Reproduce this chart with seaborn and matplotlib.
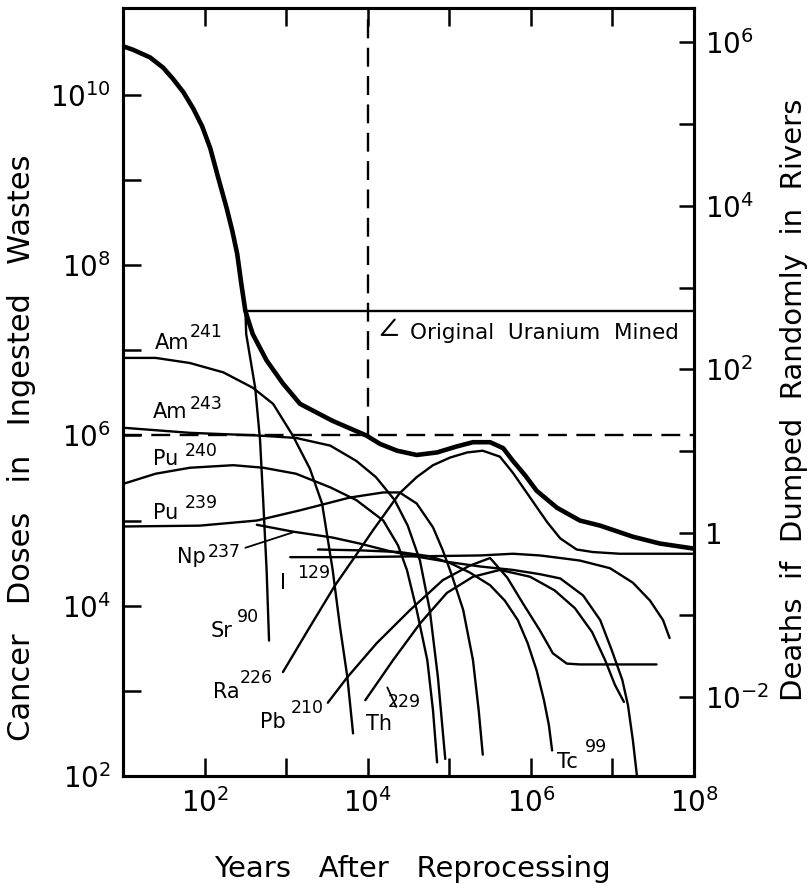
import matplotlib
matplotlib.use("Agg")
import matplotlib.pyplot as plt
import numpy as np
import pandas as pd
import seaborn as sns
from matplotlib.ticker import FixedLocator, FuncFormatter, NullLocator

# Curves, as log10(years) / log10(cancer doses)
total_lx = [1.00, 1.12, 1.33, 1.49, 1.61, 1.74, 1.86, 1.97, 2.07, 2.16, 2.27, 2.34, 2.40,
            2.45, 2.50, 2.59, 2.76, 2.96, 3.17, 3.57, 3.98, 4.15, 4.36, 4.60, 4.85, 5.09,
            5.29, 5.50, 5.66, 5.78, 5.93, 6.07, 6.32, 6.60, 6.85, 7.25, 7.58, 8.00]
total_ly = [10.57, 10.53, 10.44, 10.32, 10.19, 10.03, 9.84, 9.63, 9.37, 9.05, 8.67, 8.40,
            8.13, 7.78, 7.46, 7.19, 6.88, 6.61, 6.37, 6.17, 6.00, 5.90, 5.82, 5.77, 5.80,
            5.87, 5.92, 5.92, 5.85, 5.70, 5.53, 5.35, 5.15, 5.00, 4.94, 4.81, 4.73, 4.67]

sr90_lx = [2.45, 2.50, 2.51, 2.62, 2.68, 2.72, 2.76, 2.79]
sr90_ly = [7.81, 7.46, 7.19, 6.56, 5.94, 5.20, 4.42, 3.59]

am241_lx = [1.00, 1.40, 1.82, 2.23, 2.59, 2.84, 3.08, 3.29, 3.44, 3.57, 3.66, 3.75, 3.82]
am241_ly = [6.91, 6.91, 6.85, 6.74, 6.56, 6.37, 6.00, 5.61, 5.20, 4.42, 3.75, 3.16, 2.50]

am243_lx = [1.00, 1.82, 2.63, 3.12, 3.54, 3.86, 4.10, 4.33, 4.49, 4.64, 4.76, 4.86, 4.95]
am243_ly = [6.09, 6.03, 6.00, 5.97, 5.88, 5.70, 5.51, 5.24, 4.94, 4.53, 3.95, 3.16, 2.20]

pu240_lx = [1.00, 1.40, 1.82, 2.35, 2.72, 3.12, 3.54, 3.86, 4.19, 4.37, 4.48, 4.60, 4.73,
            4.80, 4.85]
pu240_ly = [5.43, 5.55, 5.62, 5.65, 5.62, 5.55, 5.39, 5.24, 5.00, 4.71, 4.42, 3.95, 3.36,
            2.77, 2.16]

pu239_lx = [1.00, 1.94, 2.64, 3.17, 3.78, 4.19, 4.39, 4.60, 4.80, 4.92, 5.03, 5.17, 5.29,
            5.36, 5.41]
pu239_ly = [4.93, 4.94, 5.00, 5.12, 5.27, 5.33, 5.33, 5.20, 4.92, 4.65, 4.36, 3.95, 3.36,
            2.77, 2.25]

np237_lx = [2.64, 3.08, 3.57, 3.90, 4.27, 4.64, 5.01, 5.38, 5.78, 6.11, 6.36, 6.64, 6.85,
            6.99, 7.12, 7.19, 7.25, 7.30]
np237_ly = [4.95, 4.87, 4.80, 4.73, 4.64, 4.57, 4.51, 4.46, 4.42, 4.37, 4.32, 4.12, 3.83,
            3.48, 3.13, 2.83, 2.42, 2.00]

th229_lx = [3.97, 4.31, 4.64, 4.97, 5.29, 5.62, 5.99, 6.29, 6.54, 6.75, 6.91, 7.03, 7.14]
th229_ly = [2.89, 3.36, 3.79, 4.15, 4.34, 4.42, 4.34, 4.18, 3.97, 3.69, 3.36, 3.07, 2.87]

i129_lx = [3.05, 3.78, 4.64, 5.38, 5.78, 6.11, 6.36, 6.60, 6.97, 7.25, 7.46, 7.62, 7.70]
i129_ly = [4.57, 4.57, 4.58, 4.59, 4.61, 4.59, 4.56, 4.53, 4.44, 4.27, 4.06, 3.83, 3.62]

tc99_lx = [3.39, 3.90, 4.39, 4.76, 5.01, 5.25, 5.50, 5.68, 5.84, 5.96, 6.07, 6.16, 6.22, 6.26]
tc99_ly = [4.66, 4.65, 4.63, 4.58, 4.50, 4.39, 4.24, 4.06, 3.83, 3.56, 3.24, 2.89, 2.60, 2.30]

ra226_lx = [2.96, 3.29, 3.60, 3.81, 4.06, 4.39, 4.60, 4.80, 5.01, 5.22, 5.41, 5.62, 5.78,
            5.99, 6.20, 6.36, 6.56, 6.76, 7.09, 8.00]
ra226_ly = [3.22, 3.75, 4.24, 4.53, 4.88, 5.32, 5.51, 5.65, 5.74, 5.80, 5.82, 5.75, 5.56,
            5.27, 4.98, 4.79, 4.66, 4.63, 4.61, 4.61]

pb210_lx = [3.51, 3.75, 4.11, 4.52, 4.92, 5.25, 5.50, 5.71, 5.90, 6.11, 6.27, 6.44, 6.60, 7.54]
pb210_ly = [2.86, 3.16, 3.56, 3.95, 4.30, 4.47, 4.56, 4.33, 4.03, 3.71, 3.44, 3.32, 3.31, 3.31]

uranium_lx = [2.50, 8.00]
uranium_ly = [7.46, 7.46]

REF_DOSES = 1e6
REF_YEARS = 1e4

# base text, log x, log y, superscript, log x, log y
LABELS = [
    ("Am", 1.39, 7.02, "241", 1.82, 7.15),
    ("Am", 1.37, 6.20, "243", 1.82, 6.31),
    ("Pu", 1.37, 5.65, "240", 1.76, 5.76),
    ("Pu", 1.37, 5.02, "239", 1.76, 5.15),
    ("Np", 1.66, 4.50, "237", 2.04, 4.57),
    ("I", 2.92, 4.20, "129", 3.13, 4.33),
    ("Sr", 2.07, 3.63, "90", 2.40, 3.81),
    ("Ra", 2.10, 2.91, "226", 2.43, 3.09),
    ("Pb", 2.68, 2.56, "210", 3.05, 2.74),
    ("Th", 3.98, 2.54, "229", 4.25, 2.81),
    ("Tc", 6.32, 2.09, "99", 6.66, 2.28),
]

curves = {
    "total": (total_lx, total_ly),
    "uranium": (uranium_lx, uranium_ly),
    "Sr90": (sr90_lx, sr90_ly),
    "Am241": (am241_lx, am241_ly),
    "Am243": (am243_lx, am243_ly),
    "Pu240": (pu240_lx, pu240_ly),
    "Pu239": (pu239_lx, pu239_ly),
    "Np237": (np237_lx, np237_ly),
    "Th229": (th229_lx, th229_ly),
    "I129": (i129_lx, i129_ly),
    "Tc99": (tc99_lx, tc99_ly),
    "Ra226": (ra226_lx, ra226_ly),
    "Pb210": (pb210_lx, pb210_ly),
}

df = pd.concat(
    [pd.DataFrame({"curve": k, "years": 10 ** np.array(lx), "doses": 10 ** np.array(ly)})
     for k, (lx, ly) in curves.items()],
    ignore_index=True,
)

sns.set_theme(style="ticks")
plt.rcParams["font.family"] = ["DejaVu Sans"]
plt.rcParams["mathtext.default"] = "regular"
plt.rcParams["text.color"] = "black"
plt.rcParams["axes.labelcolor"] = "black"
plt.rcParams["xtick.color"] = "black"
plt.rcParams["ytick.color"] = "black"

fig = plt.figure(figsize=(8.11, 8.84), dpi=100)
ax = fig.add_axes([0.1517, 0.1222, 0.7041, 0.8688])
ax.set_xscale("log")
ax.set_yscale("log")
ax.set_xlim(1e1, 1e8)
ax.set_ylim(1e2, 10 ** 11.02)

for name, g in df.groupby("curve", sort=False):
    sns.lineplot(data=g, x="years", y="doses", sort=False, estimator=None, ax=ax,
                 color="black", linewidth=3.3 if name == "total" else 1.7)

ax.plot([1e1, 1e8], [REF_DOSES, REF_DOSES], color="black", lw=1.7, dashes=(8, 4))
ax.plot([REF_YEARS, REF_YEARS], [REF_DOSES, 10 ** 11.02], color="black", lw=1.7,
        dashes=(8, 4))

for base, bx, by, sup, sx, sy in LABELS:
    ax.text(10 ** bx, 10 ** by, base, fontsize=15, ha="left", va="baseline",
            color="black")
    ax.text(10 ** sx, 10 ** sy, sup, fontsize=12.5, ha="left", va="baseline",
            color="black")

# leader lines
ax.plot([10 ** 2.50, 10 ** 3.08], [10 ** 4.68, 10 ** 4.86], color="black", lw=1.3)
ax.plot([10 ** 4.24, 10 ** 4.35], [10 ** 3.04, 10 ** 2.81], color="black", lw=1.3)
ax.plot([10 ** 4.33, 10 ** 4.17, 10 ** 4.36],
        [10 ** 7.36, 10 ** 7.18, 10 ** 7.18], color="black", lw=1.5)
ax.text(10 ** 4.52, 10 ** 7.13, "Original  Uranium  Mined", fontsize=15.5,
        ha="left", va="baseline", color="black")

ax.set_xlabel("")
ax.set_ylabel("")


def decade_label(v, pos):
    e = int(round(np.log10(v)))
    if e % 2:
        return ""
    if e == 0:
        return "1"
    return rf"$10^{{{e}}}$"


ax.xaxis.set_major_locator(FixedLocator([10.0 ** e for e in range(1, 9)]))
ax.xaxis.set_major_formatter(FuncFormatter(decade_label))
ax.xaxis.set_minor_locator(NullLocator())
ax.yaxis.set_major_locator(FixedLocator([10.0 ** e for e in range(2, 11)]))
ax.yaxis.set_major_formatter(FuncFormatter(decade_label))
ax.yaxis.set_minor_locator(NullLocator())
ax.tick_params(axis="both", which="major", direction="in", length=13, width=1.8,
               labelsize=20, pad=9, colors="black")
ax.tick_params(axis="x", top=True, labeltop=False)
for sp in ax.spines.values():
    sp.set_linewidth(2.2)
    sp.set_color("black")

ax2 = ax.twinx()
ax2.set_yscale("log")
ax2.set_ylim(10 ** -2.965, 10 ** 6.415)
ax2.yaxis.set_major_locator(FixedLocator([10.0 ** e for e in range(-2, 7)]))
ax2.yaxis.set_major_formatter(FuncFormatter(decade_label))
ax2.yaxis.set_minor_locator(NullLocator())
ax2.tick_params(axis="y", which="major", direction="in", length=10.5, width=1.8,
                labelsize=20, pad=8, colors="black")
for sp in ax2.spines.values():
    sp.set_linewidth(2.2)
    sp.set_color("black")

fig.text(0.027, 0.493, "Cancer   Doses   in   Ingested   Wastes", rotation=90,
         fontsize=22, ha="center", va="center", color="black")
fig.text(0.979, 0.548, "Deaths  if  Dumped  Randomly  in  Rivers", rotation=90,
         fontsize=21, ha="center", va="center", color="black")
fig.text(0.508, 0.008, "Years   After   Reprocessing", fontsize=21, ha="center",
         va="baseline", color="black")

fig.savefig("out.png", dpi=100)
